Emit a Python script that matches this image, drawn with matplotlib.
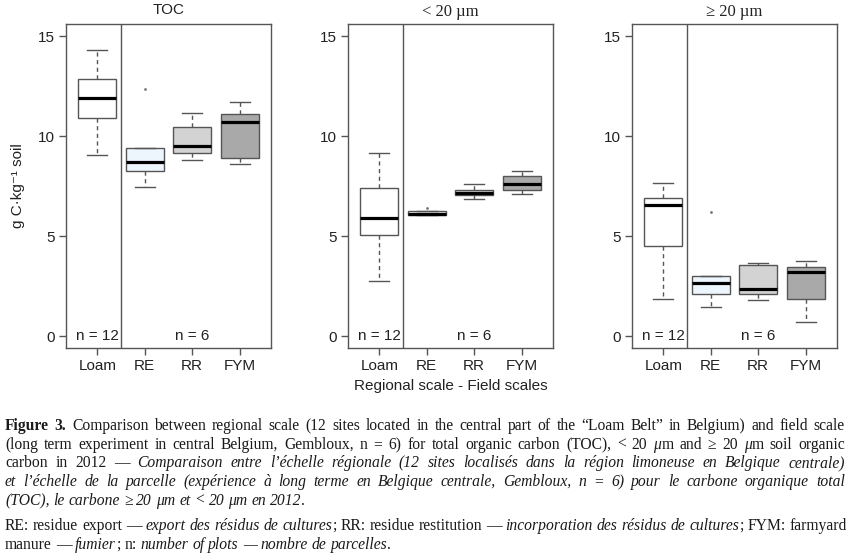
import matplotlib
matplotlib.use("Agg")
import matplotlib.pyplot as plt

plt.rcParams['font.family'] = ['Liberation Sans', 'DejaVu Sans']

groups = ['Loam', 'RE', 'RR', 'FYM']
fills = ['white', '#EEF6FD', '#D3D3D3', '#A9A9A9']
n_labels = ['n = 12', 'n = 6']

# TOC
toc_lo = [9.05, 7.43, 8.80, 8.58]
toc_q1 = [10.92, 8.23, 9.15, 8.88]
toc_med = [11.90, 8.68, 9.50, 10.72]
toc_q3 = [12.87, 9.38, 10.47, 11.12]
toc_hi = [14.28, 9.38, 11.13, 11.68]
toc_out = [[], [12.33], [], []]

# < 20 um
fine_lo = [2.77, 6.05, 6.85, 7.10]
fine_q1 = [5.07, 6.05, 7.05, 7.32]
fine_med = [5.88, 6.10, 7.15, 7.60]
fine_q3 = [7.42, 6.25, 7.32, 7.98]
fine_hi = [9.15, 6.25, 7.60, 8.27]
fine_out = [[], [6.40], [], []]

# >= 20 um
coarse_lo = [1.85, 1.47, 1.82, 0.72]
coarse_q1 = [4.50, 2.09, 2.09, 1.84]
coarse_med = [6.54, 2.64, 2.34, 3.19]
coarse_q3 = [6.91, 2.99, 3.56, 3.47]
coarse_hi = [7.66, 2.99, 3.64, 3.74]
coarse_out = [[], [6.21], [], []]

panels = [
    ('TOC', 'sans', (toc_lo, toc_q1, toc_med, toc_q3, toc_hi, toc_out)),
    ('< 20 µm', 'serif', (fine_lo, fine_q1, fine_med, fine_q3, fine_hi, fine_out)),
    ('≥ 20 µm', 'serif', (coarse_lo, coarse_q1, coarse_med, coarse_q3, coarse_hi, coarse_out)),
]

W, H = 850, 554
fig = plt.figure(figsize=(W / 100, H / 100), dpi=100)

edge = '#555555'
txtc = '#222222'
lefts = [66, 348, 632]
top, bottom = 24, 348

axes = []
for i, (title, fam, (lo, q1, med, q3, hi, out)) in enumerate(panels):
    ax = fig.add_axes([lefts[i] / W, 1 - bottom / H, 205 / W, (bottom - top) / H])
    stats = []
    for k in range(4):
        stats.append(dict(whislo=lo[k], q1=q1[k], med=med[k], q3=q3[k],
                          whishi=hi[k], fliers=out[k], label=groups[k]))
    bp = ax.bxp(stats, positions=[1, 2, 3, 4], widths=0.8, capwidths=0.42,
                patch_artist=True, showfliers=True,
                boxprops=dict(edgecolor=edge, linewidth=1.0),
                whiskerprops=dict(color=edge, linewidth=1.0, linestyle=(0, (3, 2.5))),
                capprops=dict(color=edge, linewidth=1.0),
                medianprops=dict(color='black', linewidth=2.3, solid_capstyle='butt'),
                flierprops=dict(marker='o', markersize=2, markerfacecolor='#777777',
                                markeredgecolor='none'))
    for patch, c in zip(bp['boxes'], fills):
        patch.set_facecolor(c)

    ax.axvline(1.5, color=edge, linewidth=1.0)
    ax.set_xlim(0.34, 4.66)
    ax.set_ylim(-0.6, 15.6)
    ax.set_yticks([0, 5, 10, 15])
    ax.set_xticks([1, 2, 3, 4])
    ax.set_xticklabels(groups)
    for s in ax.spines.values():
        s.set_color(edge)
        s.set_linewidth(1.0)
    ax.tick_params(direction='out', length=5, width=1, color=edge,
                   labelsize=11, labelcolor=txtc, pad=3)
    ax.text(1, 0, n_labels[0], ha='center', va='center', fontsize=11, color=txtc)
    ax.text(3, 0, n_labels[1], ha='center', va='center', fontsize=11, color=txtc)
    if fam == 'serif':
        ax.set_title(title, fontsize=12, color=txtc, family='Liberation Serif', pad=6)
    else:
        ax.set_title(title, fontsize=11, color=txtc, pad=7)
    axes.append(ax)

axes[0].set_ylabel('g C·kg⁻¹ soil', fontsize=11, color=txtc, labelpad=9)
axes[1].set_xlabel('Regional scale - Field scales', fontsize=11, color=txtc, labelpad=4)

# caption: (segments, justified, baseline in px)
cap_lines = [
    ([('Figure 3.', 'b'), (' Comparison between regional scale (12 sites located in the central part of the “Loam Belt” in Belgium) and field scale', 'n')], True, 430),
    ([('(long term experiment in central Belgium, Gembloux, n = 6) for total organic carbon (TOC), < 20 ', 'n'), ('μ', 'i'),
      ('m and ≥ 20 ', 'n'), ('μ', 'i'), ('m soil organic', 'n')], True, 449),
    ([('carbon in 2012 — ', 'n'), ('Comparaison entre l’échelle régionale (12 sites localisés dans la région limoneuse en Belgique centrale)', 'i')], True, 467),
    ([('et l’échelle de la parcelle (expérience à long terme en Belgique centrale, Gembloux, n = 6) pour le carbone organique total', 'i')], True, 486),
    ([('(TOC), le carbone ≥ 20 μm et < 20 μm en 2012', 'i'), ('.', 'n')], False, 505),
    ([('RE: residue export — ', 'n'), ('export des résidus de cultures', 'i'), ('; RR: residue restitution — ', 'n'),
      ('incorporation des résidus de cultures', 'i'), ('; FYM: farmyard', 'n')], False, 530),
    ([('manure — ', 'n'), ('fumier', 'i'), ('; n: ', 'n'), ('number of plots — nombre de parcelles', 'i'), ('.', 'n')], False, 549),
]
cap_left, cap_right = 5, 845


def words_of(segs):
    words = [[]]
    for txt, st in segs:
        parts = txt.split(' ')
        for j, p in enumerate(parts):
            if j > 0:
                words.append([])
            if p:
                words[-1].append((p, st))
    return [w for w in words if w]


renderer = fig.canvas.get_renderer()
built = []
for segs, justify, yb in cap_lines:
    line = []
    for w in words_of(segs):
        pieces = []
        for p, st in w:
            t = fig.text(0, 1 - yb / H, p, family='Liberation Serif', fontsize=10,
                         style='italic' if st == 'i' else 'normal',
                         weight='bold' if st == 'b' else 'normal',
                         color='#1a1a1a', va='baseline', ha='left')
            pieces.append(t)
        line.append(pieces)
    built.append((line, justify))


def natural(line, fs):
    w = sum(t.get_window_extent(renderer).width for pieces in line for t in pieces)
    return w + (len(line) - 1) * fs * 100 / 72 * 0.25


def layout(fs):
    sp = fs * 100 / 72 * 0.25
    for line, justify in built:
        for pieces in line:
            for t in pieces:
                t.set_fontsize(fs)
        widths = [[t.get_window_extent(renderer).width for t in pieces] for pieces in line]
        tot = sum(sum(w) for w in widths)
        gap = sp
        if justify and len(line) > 1:
            gap = (cap_right - cap_left - tot) / (len(line) - 1)
        x = cap_left
        for pieces, ws in zip(line, widths):
            for t, w in zip(pieces, ws):
                t.set_x(x / W)
                x += w
            x += gap


# pick the caption size so the longest line just fits with normal spacing
fs0 = 10
fs = min(fs0 * (cap_right - cap_left) / natural(line, fs0) for line, _ in built)
layout(fs)

fig.savefig('out.png', dpi=100)
